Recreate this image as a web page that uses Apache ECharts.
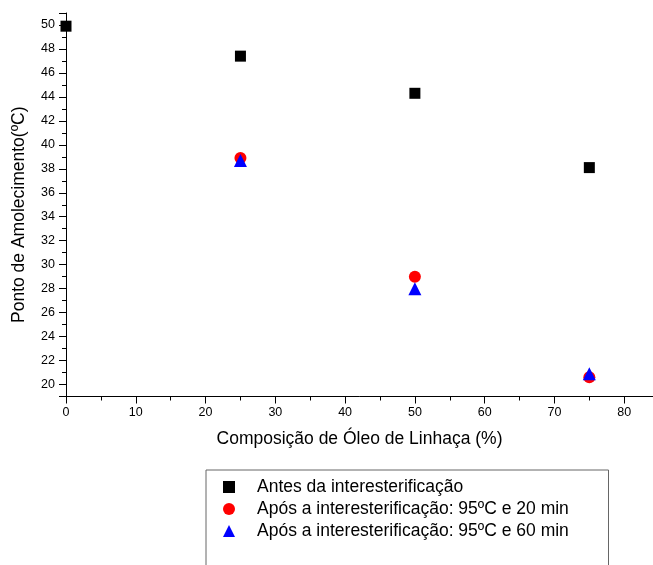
<!DOCTYPE html>
<html>
<head>
<meta charset="utf-8">
<script src="https://cdn.jsdelivr.net/npm/echarts@6/dist/echarts.min.js"></script>
<style>html,body{margin:0;padding:0;background:#fff;}#c{width:653px;height:565px;}</style>
</head>
<body>
<div id="c"></div>
<script>
const seriesNames = [
  'Antes da interesterificação',
  'Após a interesterificação: 95ºC e 20 min',
  'Após a interesterificação: 95ºC e 60 min'
];
const antes = [[0, 49.9], [25, 47.4], [50, 44.3], [75, 38.1]];
const apos20 = [[25, 38.9], [50, 29.0], [75, 20.6]];
const apos60 = [[25, 38.7], [50, 28.0], [75, 20.9]];
const xTitle = 'Composição de Óleo de Linhaça (%)';
const yTitle = 'Ponto de Amolecimento(ºC)';

const FONT = 'Liberation Sans, Arial, sans-serif';
const chart = echarts.init(document.getElementById('c'), null, {renderer: 'canvas'});
const axisCommon = {
  axisLine: {show: true, lineStyle: {color: '#000', width: 1}},
  axisTick: {show: true, inside: false, length: 7, lineStyle: {color: '#000', width: 1}},
  minorTick: {show: true, splitNumber: 2, length: 4, lineStyle: {color: '#000', width: 1}},
  splitLine: {show: false},
  minorSplitLine: {show: false}
};
chart.setOption({
  animation: false,
  backgroundColor: '#fff',
  grid: {left: 66, width: 628, top: 13, bottom: 168.5, containLabel: false, outerBoundsMode: 'none'},
  xAxis: Object.assign({
    type: 'value', min: 0, max: 90, interval: 10,
    name: xTitle, nameLocation: 'middle', nameGap: 34,
    nameTextStyle: {fontFamily: FONT, fontSize: 17.5, color: '#000', padding: [0, 41, 0, 0]},
    axisLabel: {fontFamily: FONT, fontSize: 12.5, color: '#000', margin: 10}
  }, axisCommon),
  yAxis: Object.assign({
    type: 'value', min: 19, max: 51, minInterval: 2, maxInterval: 2, splitNumber: 16,
    name: yTitle, nameLocation: 'middle', nameGap: 38, nameRotate: 90,
    nameTextStyle: {fontFamily: FONT, fontSize: 17.5, color: '#000', padding: [0, 20, 0, 0]},
    axisLabel: {fontFamily: FONT, fontSize: 12.5, color: '#000', margin: 11, showMinLabel: false, showMaxLabel: false}
  }, axisCommon),
  legend: {
    orient: 'vertical', left: 223, top: 478, padding: 0,
    itemWidth: 12, itemHeight: 12, itemGap: 4,
    textStyle: {fontFamily: FONT, fontSize: 17.5, color: '#000', padding: [0, 0, 0, 17]},
    data: seriesNames
  },
  graphic: [{
    type: 'rect', left: 203.5, top: 467.5, silent: true,
    shape: {width: 402.5, height: 120},
    style: {fill: 'none', stroke: '#666', lineWidth: 1}
  }],
  series: [
    {name: seriesNames[0], type: 'scatter', data: antes, symbol: 'rect', symbolSize: 11,
     itemStyle: {color: '#000', opacity: 1}},
    {name: seriesNames[1], type: 'scatter', data: apos20, symbol: 'circle', symbolSize: 12,
     itemStyle: {color: '#ff0000', opacity: 1}},
    {name: seriesNames[2], type: 'scatter', data: apos60, symbol: 'triangle', symbolSize: 13,
     itemStyle: {color: '#0000ff', opacity: 1}}
  ]
});
</script>
</body>
</html>
